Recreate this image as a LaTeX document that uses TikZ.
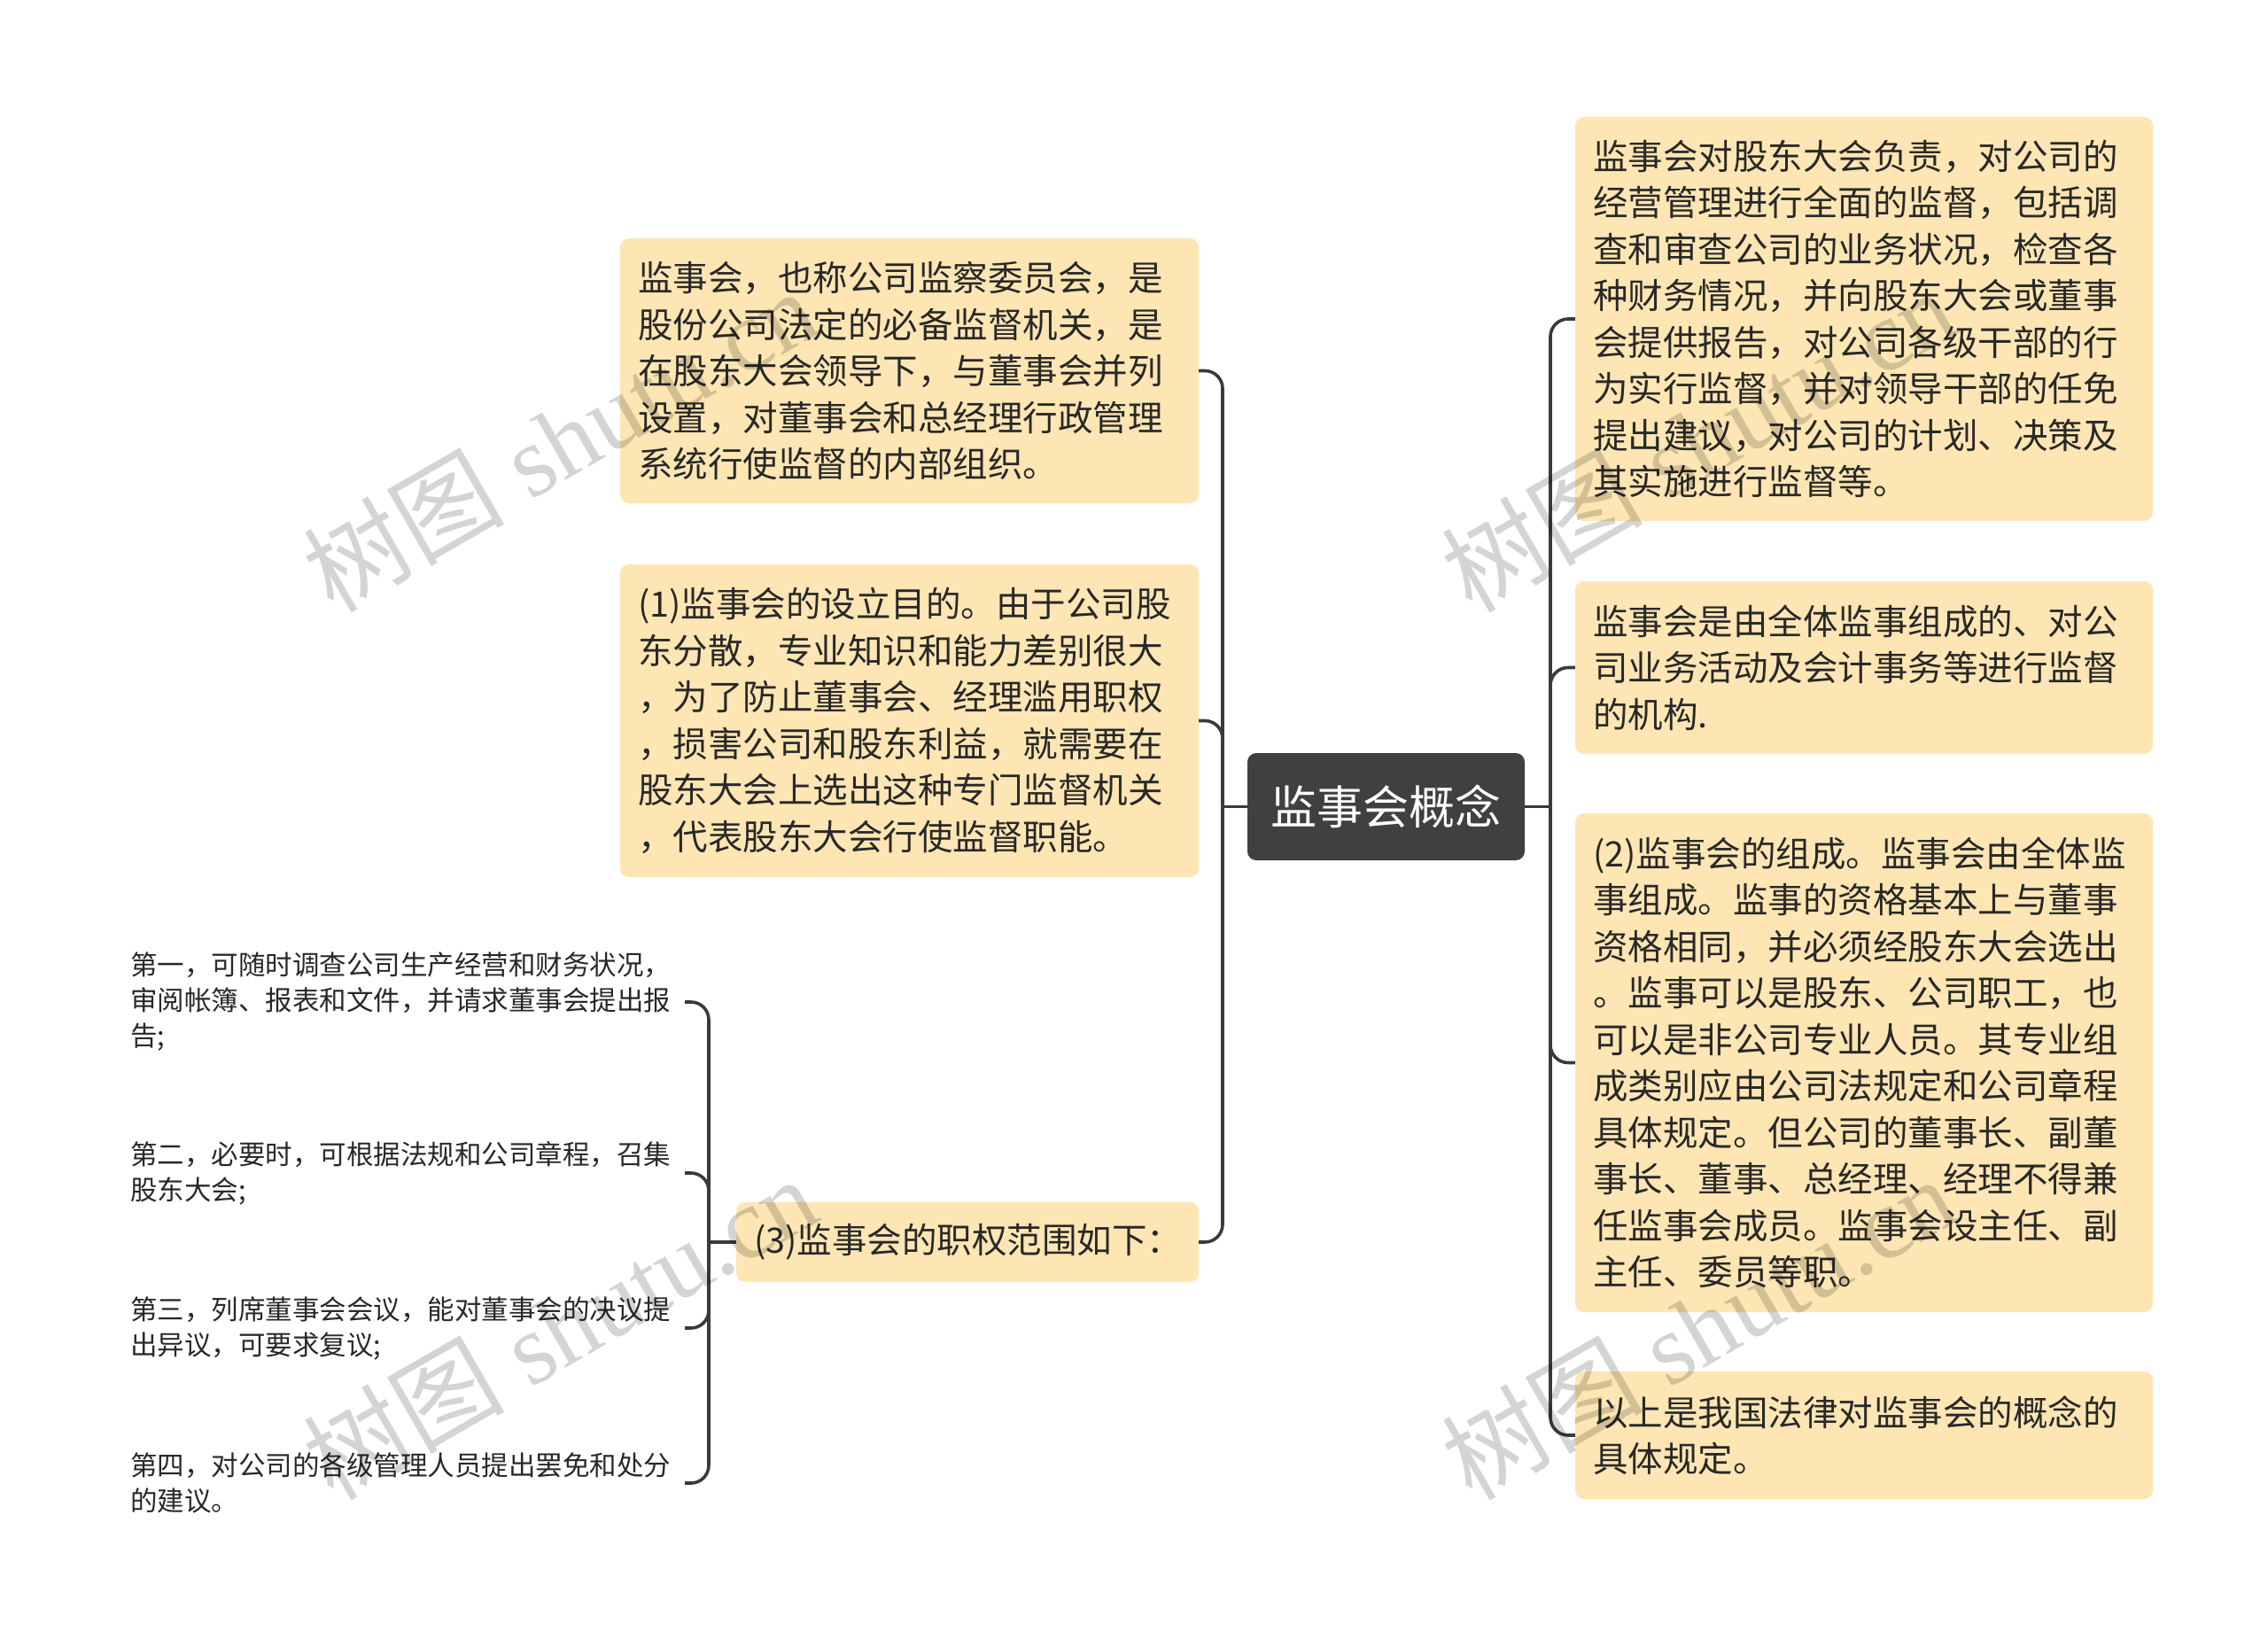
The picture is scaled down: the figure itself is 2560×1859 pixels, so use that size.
\documentclass[tikz,border=0pt]{standalone}
\usepackage{fontspec}
\newfontfamily\cjk{Noto Sans CJK SC}
\newfontfamily\wmserif{Liberation Serif}
\definecolor{boxfill}{RGB}{253,230,179}
\definecolor{rootfill}{RGB}{64,64,64}
\definecolor{linec}{RGB}{58,58,58}
\definecolor{txt}{RGB}{40,40,40}
\begin{document}
\begin{tikzpicture}[x=1pt,y=-1pt,
  box/.style={fill=boxfill, rounded corners=10pt, inner xsep=20pt, inner ysep=0pt,
    text width=#1, align=left, text=txt, font=\cjk\fontsize{39.5pt}{52.5pt}\selectfont},
  leaf/.style={inner xsep=15pt, inner ysep=0pt, text width=611pt, align=left, text=txt,
    font=\cjk\fontsize{30.5pt}{40pt}\selectfont},
  rootbox/.style={fill=rootfill, rounded corners=10pt, minimum width=313pt, minimum height=121pt,
    text=white, font=\cjk\fontsize{52pt}{60pt}\selectfont},
  conn/.style={draw=linec, line width=3.6pt},
  elbow/.style={conn, rounded corners=20pt},
  wm/.style={text=black, text opacity=0.17, font=\fontsize{114pt}{120pt}\selectfont, inner sep=0pt, rotate=30, anchor=base west}]
\useasboundingbox (0,0) rectangle (2560,1859);
\fill[white] (0,0) rectangle (2560,1859);

% root
\node[rootbox] (root) at (1564.5,910.5) {监事会概念};

% left branch
\node[box=613pt, minimum height=299pt] (L1) at (1026.5,418.5) {监事会，也称公司监察委员会，是\\股份公司法定的必备监督机关，是\\在股东大会领导下，与董事会并列\\设置，对董事会和总经理行政管理\\系统行使监督的内部组织。};
\node[box=613pt, minimum height=353pt] (L2) at (1026.5,813.5) {(1)监事会的设立目的。由于公司股\\东分散，专业知识和能力差别很大\\，为了防止董事会、经理滥用职权\\，损害公司和股东利益，就需要在\\股东大会上选出这种专门监督机关\\，代表股东大会行使监督职能。};
\node[box=482pt, minimum height=90pt] (L3) at (1092,1402) {(3)监事会的职权范围如下：};

% leaves
\node[leaf] (F1) at (452.5,1131) {第一，可随时调查公司生产经营和财务状况，\\审阅帐簿、报表和文件，并请求董事会提出报\\告;};
\node[leaf] (F2) at (452.5,1324) {第二，必要时，可根据法规和公司章程，召集\\股东大会;};
\node[leaf] (F3) at (452.5,1499) {第三，列席董事会会议，能对董事会的决议提\\出异议，可要求复议;};
\node[leaf] (F4) at (452.5,1674) {第四，对公司的各级管理人员提出罢免和处分\\的建议。};

% right branch
\node[box=612pt, minimum height=456pt] (R1) at (2104,360) {监事会对股东大会负责，对公司的\\经营管理进行全面的监督，包括调\\查和审查公司的业务状况，检查各\\种财务情况，并向股东大会或董事\\会提供报告，对公司各级干部的行\\为实行监督，并对领导干部的任免\\提出建议，对公司的计划、决策及\\其实施进行监督等。};
\node[box=612pt, minimum height=195pt] (R2) at (2104,753.5) {监事会是由全体监事组成的、对公\\司业务活动及会计事务等进行监督\\的机构.};
\node[box=612pt, minimum height=563pt] (R3) at (2104,1199.5) {(2)监事会的组成。监事会由全体监\\事组成。监事的资格基本上与董事\\资格相同，并必须经股东大会选出\\。监事可以是股东、公司职工，也\\可以是非公司专业人员。其专业组\\成类别应由公司法规定和公司章程\\具体规定。但公司的董事长、副董\\事长、董事、总经理、经理不得兼\\任监事会成员。监事会设主任、副\\主任、委员等职。};
\node[box=612pt, minimum height=144pt] (R4) at (2104,1620) {以上是我国法律对监事会的概念的\\具体规定。};

% junctions
\coordinate (lj) at (1380,910.5);
\coordinate (rj) at (1750,910.5);
\coordinate (tj) at (800,1402);

\draw[conn] (root.west) -- (lj);
\draw[elbow] (lj) |- (L1.east);
\draw[elbow] (lj) |- (L2.east);
\draw[elbow] (lj) |- (L3.east);

\draw[conn] (root.east) -- (rj);
\draw[elbow] (rj) |- (R1.west);
\draw[elbow] (rj) |- (R2.west);
\draw[elbow] (rj) |- (R3.west);
\draw[elbow] (rj) |- (R4.west);

\draw[conn] (L3.west) -- (tj);
\draw[elbow] (tj) |- (F1.east);
\draw[elbow] (tj) |- (F2.east);
\draw[elbow] (tj) |- (F3.east);
\draw[elbow] (tj) |- (F4.east);

% watermarks
\node[wm] (wm1) at (376,694) {\cjk 树图\wmserif{} shutu.cn};
\node[wm] (wm2) at (1661,694) {\cjk 树图\wmserif{} shutu.cn};
\node[wm] (wm3) at (376,1696) {\cjk 树图\wmserif{} shutu.cn};
\node[wm] (wm4) at (1661,1696) {\cjk 树图\wmserif{} shutu.cn};
\end{tikzpicture}
\end{document}
